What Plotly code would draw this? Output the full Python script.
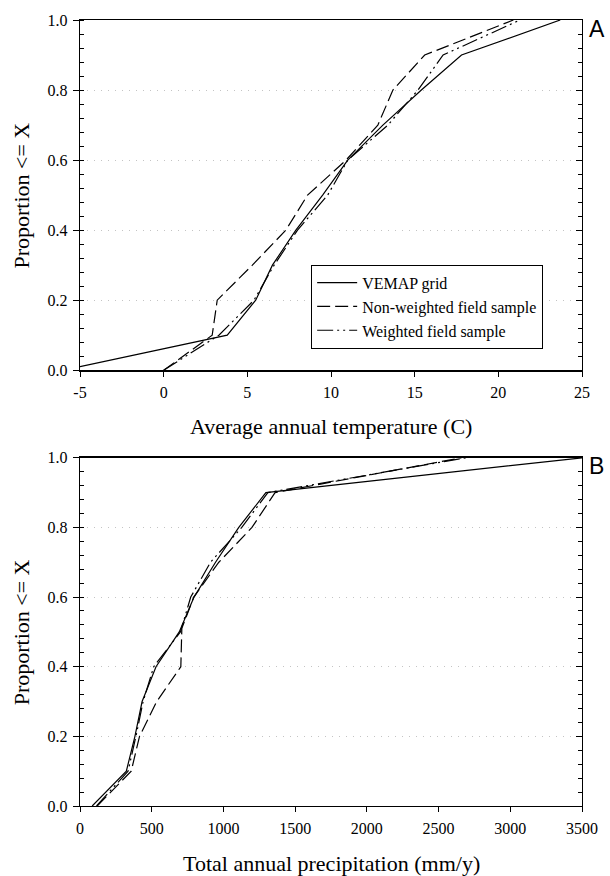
import plotly.graph_objects as go

# ---------------- data ----------------
# Panel A: average annual temperature (C) vs cumulative proportion
vemap_temp_x = [-5.0, 3.8, 5.5, 6.5, 7.9, 9.5, 11.0, 13.1, 15.4, 17.8, 23.7]
vemap_temp_y = [0.01, 0.1, 0.2, 0.3, 0.4, 0.5, 0.6, 0.7, 0.8, 0.9, 1.0]
nonw_temp_x = [0.0, 2.9, 3.2, 5.3, 7.3, 8.6, 10.9, 12.8, 13.7, 15.6, 20.9]
nonw_temp_y = [0.0, 0.1, 0.2, 0.3, 0.4, 0.5, 0.6, 0.7, 0.8, 0.9, 1.0]
wght_temp_x = [0.0, 3.3, 5.4, 6.6, 8.0, 9.8, 11.0, 13.4, 15.2, 16.7, 21.3]
wght_temp_y = [0.0, 0.1, 0.2, 0.3, 0.4, 0.5, 0.6, 0.7, 0.8, 0.9, 1.0]

# Panel B: total annual precipitation (mm/y) vs cumulative proportion
vemap_prec_x = [85, 323, 383, 433, 530, 692, 795, 945, 1107, 1296, 3500]
vemap_prec_y = [0.0, 0.1, 0.2, 0.3, 0.4, 0.5, 0.6, 0.7, 0.8, 0.9, 1.0]
nonw_prec_x = [120, 357, 415, 535, 703, 710, 793, 968, 1199, 1360, 2660]
nonw_prec_y = [0.0, 0.1, 0.2, 0.3, 0.4, 0.51, 0.6, 0.7, 0.8, 0.9, 1.0]
wght_prec_x = [115, 335, 390, 440, 514, 700, 772, 910, 1128, 1310, 2690]
wght_prec_y = [0.0, 0.1, 0.2, 0.3, 0.4, 0.5, 0.6, 0.7, 0.8, 0.9, 1.0]

series_names = ["VEMAP grid", "Non-weighted field sample", "Weighted field sample"]

temp_ticks = [-5, 0, 5, 10, 15, 20, 25]
temp_ticktext = ["-5", "0", "5", "10", "15", "20", "25"]
prec_ticks = [0, 500, 1000, 1500, 2000, 2500, 3000, 3500]
prec_ticktext = ["0", "500", "1000", "1500", "2000", "2500", "3000", "3500"]
prop_ticks = [0.0, 0.2, 0.4, 0.6, 0.8, 1.0]
prop_ticktext = ["0.0", "0.2", "0.4", "0.6", "0.8", "1.0"]

x_title_a = "Average annual temperature (C)"
x_title_b = "Total annual precipitation (mm/y)"
y_title = "Proportion <= X"

# ---------------- styling ----------------
SERIF = "Liberation Serif, Times New Roman, serif"
SANS = "Liberation Sans, Arial, sans-serif"
dashes = ["solid", "13px,5px", "16px,4px,2px,4px,2px,4px"]
LW = 1.2

fig = go.Figure()

top = [(vemap_temp_x, vemap_temp_y), (nonw_temp_x, nonw_temp_y), (wght_temp_x, wght_temp_y)]
bot = [(vemap_prec_x, vemap_prec_y), (nonw_prec_x, nonw_prec_y), (wght_prec_x, wght_prec_y)]

for i, (xs, ys) in enumerate(top):
    fig.add_trace(go.Scatter(x=xs, y=ys, mode="lines", name=series_names[i],
                             line=dict(color="black", width=LW, dash=dashes[i]),
                             xaxis="x", yaxis="y", showlegend=True, hoverinfo="skip"))
for i, (xs, ys) in enumerate(bot):
    fig.add_trace(go.Scatter(x=xs, y=ys, mode="lines", name=series_names[i],
                             line=dict(color="black", width=LW, dash=dashes[i]),
                             xaxis="x2", yaxis="y2", showlegend=False, hoverinfo="skip"))

# empty traces so the right-hand (inside-tick) axes are rendered
fig.add_trace(go.Scatter(x=[], y=[], xaxis="x", yaxis="y3", showlegend=False, hoverinfo="skip"))
fig.add_trace(go.Scatter(x=[], y=[], xaxis="x2", yaxis="y4", showlegend=False, hoverinfo="skip"))

tickfont = dict(family=SERIF, size=16, color="black")

def xaxis(rng, ticks, text, anchor):
    return dict(domain=[0, 1], anchor=anchor, range=rng, tickmode="array",
                tickvals=ticks, ticktext=text, ticks="outside", ticklen=5,
                tickcolor="black", tickwidth=1, showline=True, mirror=True,
                linecolor="black", linewidth=1.3, showgrid=False, zeroline=False,
                tickfont=tickfont, ticklabelstandoff=2, fixedrange=True)

def yaxis(dom, anchor):
    return dict(domain=dom, anchor=anchor, range=[0, 1], tickmode="array",
                tickvals=prop_ticks, ticktext=prop_ticktext, ticks="outside",
                ticklen=6, tickcolor="black", tickwidth=1, showline=True,
                mirror=True, linecolor="black", linewidth=1.3, showgrid=True,
                gridcolor="#c4c4c4", griddash="1px,6px", gridwidth=1,
                zeroline=False, tickfont=tickfont, ticklabelstandoff=2,
                minor=dict(tickmode="linear", tick0=0, dtick=0.04, ticks="inside",
                           ticklen=4, tickcolor="black", showgrid=False),
                fixedrange=True)

def yright(dom, over, anchor):
    return dict(domain=dom, anchor=anchor, overlaying=over, side="right",
                range=[0, 1], tickmode="array", tickvals=prop_ticks,
                ticks="inside", ticklen=6, tickcolor="black", tickwidth=1,
                showticklabels=False, showline=False, showgrid=False,
                zeroline=False,
                minor=dict(tickmode="linear", tick0=0, dtick=0.04, ticks="inside",
                           ticklen=4, tickcolor="black", showgrid=False),
                fixedrange=True)

W, H = 610, 876
ML, MR, MT, MB = 80, 24, 16, 70
ph = H - MT - MB
pw = W - ML - MR

def py(pix):
    return (H - MB - pix) / ph

def px(pix):
    return (pix - ML) / pw

top_dom = [py(368), 1.0]
bot_dom = [0.0, py(456)]

fig.update_layout(
    width=W, height=H,
    margin=dict(l=ML, r=MR, t=MT, b=MB),
    paper_bgcolor="white", plot_bgcolor="white",
    xaxis=xaxis([-5, 25], temp_ticks, temp_ticktext, "y"),
    yaxis=yaxis(top_dom, "x"),
    xaxis2=xaxis([0, 3500], prec_ticks, prec_ticktext, "y2"),
    yaxis2=yaxis(bot_dom, "x2"),
    yaxis3=yright(top_dom, "y", "x"),
    yaxis4=yright(bot_dom, "y2", "x2"),
    legend=dict(x=px(313), y=py(262), xanchor="left", yanchor="top",
                bgcolor="white", bordercolor="black", borderwidth=1,
                font=dict(family=SERIF, size=16, color="black"),
                tracegroupgap=0, itemwidth=40),
    font=dict(family=SERIF, color="black"),
    hovermode=False,
    annotations=[
        dict(text=x_title_a, xref="paper", yref="paper", x=0.5, y=py(425),
             xanchor="center", yanchor="middle", showarrow=False,
             font=dict(family=SERIF, size=22, color="black")),
        dict(text=x_title_b, xref="paper", yref="paper", x=0.5, y=py(864),
             xanchor="center", yanchor="middle", showarrow=False,
             font=dict(family=SERIF, size=22, color="black")),
        dict(text=y_title, xref="paper", yref="paper", x=px(21), y=py(192),
             xanchor="center", yanchor="middle", showarrow=False, textangle=-90,
             font=dict(family=SERIF, size=22, color="black")),
        dict(text=y_title, xref="paper", yref="paper", x=px(21), y=py(631),
             xanchor="center", yanchor="middle", showarrow=False, textangle=-90,
             font=dict(family=SERIF, size=22, color="black")),
        dict(text="A", xref="paper", yref="paper", x=px(601), y=py(25),
             xanchor="center", yanchor="middle", showarrow=False,
             font=dict(family=SANS, size=23, color="black")),
        dict(text="B", xref="paper", yref="paper", x=px(601), y=py(464),
             xanchor="center", yanchor="middle", showarrow=False,
             font=dict(family=SANS, size=23, color="black")),
    ],
)

fig.write_html(
    "out.html",
    config={"displayModeBar": False, "staticPlot": True},
    post_script="document.body.style.margin='0';document.body.style.overflow='hidden';",
)
